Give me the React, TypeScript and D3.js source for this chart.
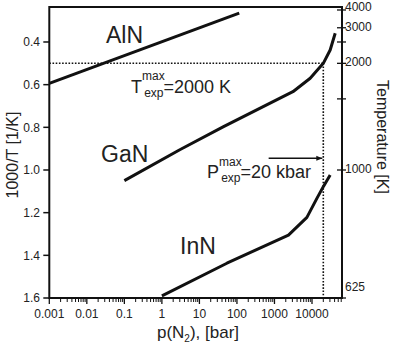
import React from "react";
import * as d3 from "d3";

// Decomposition / equilibrium curves of group-III nitrides: 1000/T versus N2 pressure
const pressureTicks = [0.001, 0.01, 0.1, 1, 10, 100, 1000, 10000];
const pressureTickLabels = ["0.001", "0.01", "0.1", "1", "10", "100", "1000", "10000"];
const invTTicks = [0.4, 0.6, 0.8, 1.0, 1.2, 1.4, 1.6];
const tempTicks = [4000, 3000, 2500, 2000, 1500, 1000, 625];
const tempLabelled = [4000, 3000, 2000, 1000, 625];

const alnP = [0.001, 115];
const alnInvT = [0.594, 0.265];
const ganP = [0.1, 3, 44, 3100, 8950, 20000, 30500, 41500];
const ganInvT = [1.05, 0.905, 0.797, 0.633, 0.57, 0.5, 0.4375, 0.359];
const innP = [1, 54, 2360, 7310, 13500, 20000, 30500];
const innInvT = [1.59, 1.437, 1.305, 1.222, 1.133, 1.078, 1.023];

const maxT = 2000; // K
const maxP = 20000; // bar
const arrowStartP = 700;
const arrowInvT = 0.945;

const W = 395;
const H = 346;
const FONT = "'Liberation Sans', Arial, Helvetica, sans-serif";

export default function App() {
  const x = d3.scaleLog().domain([0.001, 63000]).range([49.3, 342]);
  const y = d3.scaleLinear().domain([0.236, 1.6]).range([7, 298]);
  const [x0, x1] = x.range();
  const [y0, y1] = y.range();

  const line = d3
    .line<[number, number]>()
    .x((d) => x(d[0]))
    .y((d) => y(d[1]));

  const series = [
    { name: "AlN", p: alnP, v: alnInvT },
    { name: "GaN", p: ganP, v: ganInvT },
    { name: "InN", p: innP, v: innInvT },
  ];

  const minorTicks: number[] = [];
  for (let e = -3; e <= 4; e++) {
    for (let k = 2; k <= 9; k++) {
      const v = k * Math.pow(10, e);
      if (v < x.domain()[1]) minorTicks.push(v);
    }
  }

  const yMax = y(1000 / maxT);
  const xMax = x(maxP);

  return (
    <svg
      width={W}
      height={H}
      style={{ position: "absolute", left: 0, top: 0, background: "#fff" }}
      fontFamily={FONT}
    >
      <defs>
        <marker
          id="arrowhead"
          viewBox="0 0 10 10"
          refX="10"
          refY="5"
          markerWidth="6"
          markerHeight="6"
          markerUnits="userSpaceOnUse"
          orient="auto"
        >
          <path d="M0,1 L10,5 L0,9 z" fill="#111" />
        </marker>
      </defs>

      {/* frame */}
      <rect x={x0} y={y0} width={x1 - x0} height={y1 - y0} fill="none" stroke="#111" strokeWidth={2} />

      {/* x axis ticks */}
      {pressureTicks.map((t, i) => (
        <g key={"xt" + i}>
          <line x1={x(t)} x2={x(t)} y1={y1} y2={y1 + 6} stroke="#111" strokeWidth={1.3} />
          <text x={x(t)} y={318} textAnchor="middle" fontSize={12} fill="#222">
            {pressureTickLabels[i]}
          </text>
        </g>
      ))}
      {minorTicks.map((t, i) => (
        <line key={"xm" + i} x1={x(t)} x2={x(t)} y1={y1} y2={y1 + 4} stroke="#111" strokeWidth={1} />
      ))}

      {/* left axis ticks */}
      {invTTicks.map((t, i) => (
        <g key={"yt" + i}>
          <line x1={x0 - 6} x2={x0} y1={y(t)} y2={y(t)} stroke="#111" strokeWidth={1.5} />
          <text x={40} y={y(t)} dy="0.35em" textAnchor="end" fontSize={12} fill="#222">
            {t.toFixed(1)}
          </text>
        </g>
      ))}

      {/* right temperature axis */}
      {tempTicks.map((T, i) => (
        <line
          key={"rt" + i}
          x1={x1 - 5}
          x2={x1 + 4}
          y1={y(1000 / T)}
          y2={y(1000 / T)}
          stroke="#111"
          strokeWidth={1.3}
        />
      ))}
      {tempLabelled.map((T, i) => (
        <text
          key={"rl" + i}
          x={345}
          y={y(1000 / T)}
          dy={T === 625 ? "-0.6em" : T === 4000 ? "0.1em" : "0.25em"}
          fontSize={12}
          fill="#222"
        >
          {T}
        </text>
      ))}

      {/* experimental limits */}
      <line x1={x0} x2={xMax} y1={yMax} y2={yMax} stroke="#111" strokeWidth={1.6} strokeDasharray="1.6,1.6" />
      <line x1={xMax} x2={xMax} y1={yMax} y2={y1} stroke="#111" strokeWidth={1.6} strokeDasharray="1.6,1.6" />

      {/* curves */}
      {series.map((s) => (
        <path
          key={s.name}
          d={line(s.p.map((p, i) => [p, s.v[i]] as [number, number])) || ""}
          fill="none"
          stroke="#111"
          strokeWidth={3}
          strokeLinejoin="round"
        />
      ))}

      {/* arrow to the pressure limit */}
      <line
        x1={x(arrowStartP)}
        x2={xMax - 1}
        y1={y(arrowInvT)}
        y2={y(arrowInvT)}
        stroke="#111"
        strokeWidth={1.5}
        markerEnd="url(#arrowhead)"
      />

      {/* curve labels */}
      <text x={106} y={43} fontSize={23} fill="#222">AlN</text>
      <text x={101} y={162} fontSize={23} fill="#222">GaN</text>
      <text x={180} y={254} fontSize={23} fill="#222">InN</text>

      {/* annotations */}
      <text x={131} y={93} fontSize={18} fill="#222">
        T
        <tspan fontSize={12} dx={0} dy={-13}>max</tspan>
        <tspan fontSize={12} dx={-20.5} dy={17}>exp</tspan>
        <tspan dy={-4}>=2000 K</tspan>
      </text>
      <text x={207} y={178} fontSize={18} fill="#222">
        P
        <tspan fontSize={12} dx={0} dy={-12}>max</tspan>
        <tspan fontSize={12} dx={-20.5} dy={16}>exp</tspan>
        <tspan dy={-4}>=20 kbar</tspan>
      </text>

      {/* axis titles */}
      <text x={198} y={338} textAnchor="middle" fontSize={17} fill="#222">
        p(N<tspan fontSize={10} dy={4}>2</tspan>
        <tspan dy={-4}>), [bar]</tspan>
      </text>
      <text
        transform={`translate(18,155) rotate(-90)`}
        textAnchor="middle"
        fontSize={16}
        fill="#222"
      >
        1000/T [1/K]
      </text>
      <text
        transform={`translate(377,137) rotate(90)`}
        textAnchor="middle"
        fontSize={16}
        fill="#222"
      >
        Temperature [K]
      </text>
    </svg>
  );
}
